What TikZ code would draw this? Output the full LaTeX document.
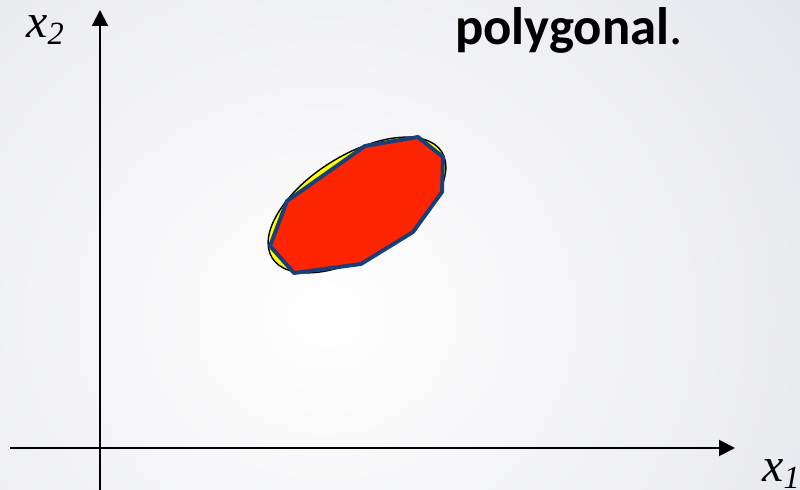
\documentclass[tikz,border=0pt]{standalone}
\usepackage{fontspec}
\setmainfont{Liberation Serif}
\newfontfamily\labelfont{Liberation Serif}
\newfontfamily\headfont{Carlito}
\usetikzlibrary{arrows.meta,shapes.geometric}
\definecolor{bgGray}{RGB}{230,231,236}
\definecolor{polyRed}{RGB}{255,36,0}
\definecolor{polyBlue}{RGB}{23,64,122}
\definecolor{ellYellow}{RGB}{255,255,0}

\begin{document}
\begin{tikzpicture}[
  x=0.025cm, y=0.025cm,
  axis/.style={draw=black, line width=1.4pt, -{Triangle[length=4mm, width=4mm]}},
  axlabel/.style={inner sep=0pt, anchor=base west, font=\labelfont\fontsize{34}{40}\selectfont\itshape},
  title/.style={inner sep=0pt, anchor=base west, font=\headfont\fontsize{37.5}{44}\selectfont},
  region/.style={fill=ellYellow, draw=black, line width=1pt, inner sep=0pt},
  poly/.style={fill=polyRed, draw=polyBlue, line width=2.8pt, line join=round}
]
  % background
  \useasboundingbox (0,0) rectangle (800,490);
  \shade[inner color=white, outer color=bgGray] (-250,-350) rectangle (900,700);

  % axes
  \coordinate (hstart) at (10,42);
  \coordinate (hend) at (735,42);
  \coordinate (vstart) at (100,-5);
  \coordinate (vend) at (100,480);
  \draw[axis] (hstart) -- (hend);
  \draw[axis] (vstart) -- (vend);
  \node[axlabel] (xone) at (762,8) {x\raisebox{-0.3ex}{\fontsize{23}{26}\selectfont 1}};
  \node[axlabel] (xtwo) at (26,452) {x\raisebox{-0.3ex}{\fontsize{23}{26}\selectfont 2}};

  \node[title] (head) at (455,445) {\textbf{polygonal}.};

  % feasible region and its polygon
  \node[ellipse, region, minimum width=5.0cm, minimum height=2.5cm, rotate=32] (ell) at (357,285) {};
  \draw[poly] (365,344) -- (418,353) -- (443,333) -- (442,298) -- (413,258)
    -- (361,226) -- (294,217) -- (270,244) -- (287,289) -- cycle;
\end{tikzpicture}
\end{document}
